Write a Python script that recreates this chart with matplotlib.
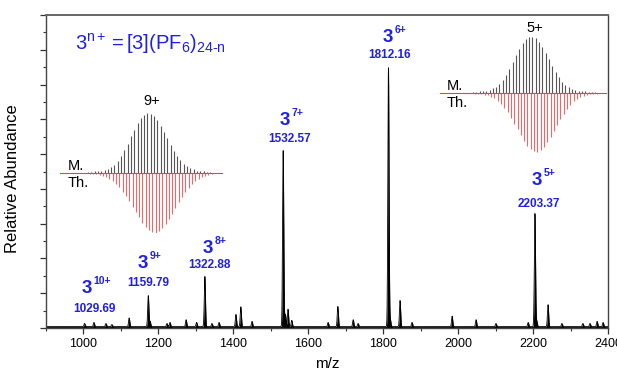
import numpy as np
import matplotlib
matplotlib.use("Agg")
import matplotlib.pyplot as plt
from matplotlib.ticker import MultipleLocator

plt.rcParams['font.family'] = ['Liberation Sans', 'DejaVu Sans']
plt.rcParams['mathtext.fontset'] = 'custom'
plt.rcParams['mathtext.rm'] = 'Liberation Sans'
plt.rcParams['mathtext.it'] = 'Liberation Sans:italic'
plt.rcParams['mathtext.bf'] = 'Liberation Sans:bold'

# main spectrum: peak centres (m/z) and heights (axis units)
peak_mz = [1003, 1028, 1060, 1076, 1122, 1173, 1178, 1223, 1231, 1274, 1302, 1324, 1343, 1362,
           1407, 1420, 1450, 1533, 1539, 1546, 1556, 1653, 1679, 1720, 1733, 1814, 1819, 1845,
           1877, 1984, 2048, 2101, 2187, 2205, 2210, 2240, 2277, 2333, 2352, 2371, 2387]
peak_h = [0.09, 0.12, 0.09, 0.06, 0.25, 0.89, 0.15, 0.09, 0.12, 0.20, 0.12, 1.44, 0.09, 0.12,
          0.35, 0.57, 0.15, 5.06, 0.35, 0.50, 0.18, 0.12, 0.58, 0.20, 0.09, 7.44, 0.20, 0.75,
          0.12, 0.30, 0.20, 0.09, 0.12, 3.25, 0.15, 0.63, 0.09, 0.09, 0.09, 0.15, 0.12]

# labelled species
lab_charge = ['10+', '9+', '8+', '7+', '6+', '5+']
lab_mz = ['1029.69', '1159.79', '1322.88', '1532.57', '1812.16', '2203.37']
lab_x = [1023, 1172, 1346, 1551, 1826, 2224]
lab_y = [1.00, 1.72, 2.16, 5.83, 8.22, 4.11]
num_x = [1028, 1172, 1335, 1549, 1818, 2216]
num_y = [0.46, 1.21, 1.72, 5.34, 7.76, 3.48]

# isotope patterns (measured / theoretical), relative intensity
iso9_meas = [0.02, 0.02, 0.03, 0.03, 0.04, 0.05, 0.07, 0.10, 0.14, 0.20, 0.28, 0.38, 0.49, 0.61,
             0.72, 0.83, 0.91, 0.97, 1.00, 0.99, 0.95, 0.88, 0.79, 0.69, 0.58, 0.47, 0.37, 0.28,
             0.21, 0.15, 0.11, 0.08, 0.06, 0.04, 0.03, 0.03, 0.02, 0.02]
iso9_theo = [0.01, 0.02, 0.02, 0.03, 0.05, 0.07, 0.10, 0.14, 0.18, 0.24, 0.31, 0.38, 0.47, 0.56,
             0.65, 0.74, 0.83, 0.90, 0.95, 0.99, 1.00, 0.97, 0.92, 0.85, 0.77, 0.68, 0.58, 0.49,
             0.40, 0.32, 0.25, 0.19, 0.14, 0.10, 0.07, 0.05, 0.03, 0.02]
iso5_meas = [0.02, 0.02, 0.03, 0.03, 0.04, 0.06, 0.08, 0.11, 0.16, 0.23, 0.32, 0.43, 0.55, 0.67,
             0.78, 0.88, 0.95, 0.99, 1.00, 0.97, 0.91, 0.82, 0.71, 0.60, 0.48, 0.37, 0.28, 0.20,
             0.14, 0.10, 0.07, 0.05, 0.04, 0.03, 0.03, 0.02, 0.02, 0.02]
iso5_theo = [0.01, 0.02, 0.02, 0.03, 0.04, 0.06, 0.09, 0.13, 0.18, 0.25, 0.33, 0.42, 0.52, 0.62,
             0.72, 0.82, 0.90, 0.96, 0.99, 1.00, 0.97, 0.91, 0.83, 0.74, 0.64, 0.54, 0.44, 0.35,
             0.27, 0.20, 0.14, 0.10, 0.07, 0.05, 0.03, 0.02, 0.02, 0.01]

BLUE = '#1f1fe6'
W, H = 617, 373


def px(x, y):
    return x / W, 1 - y / H


def spectrum(x):
    y = np.full_like(x, 0.04)
    for c, h in zip(peak_mz, peak_h):
        y += h * np.exp(-(x - c) ** 2 / (2 * 1.6 ** 2))
    return y


def iso_inset(fig, rect, meas, theo, first, top_scale, bot_scale):
    l, b = px(rect[0], rect[3])
    r, t = px(rect[2], rect[1])
    a = fig.add_axes([l, b, r - l, t - b])
    a.patch.set_alpha(0)
    a.axis('off')
    sp = 3.3
    a.set_xlim(-(first - rect[0]) / sp, (rect[2] - first) / sp)
    a.set_ylim(-1, 1)
    idx = np.arange(len(meas))
    a.vlines(idx + 0.5, 0, -np.array(theo) * bot_scale, color='#e86a6a', lw=0.8)
    a.vlines(idx, 0, np.array(meas) * top_scale, color='#555555', lw=0.8)
    a.axhline(0, color='#e04848', lw=0.8)
    return a


fig = plt.figure(figsize=(6.17, 3.73), dpi=100)
ax = fig.add_axes([46 / W, 45 / H, 562 / W, 313 / H])

x = np.arange(900, 2400, 0.2)
y = spectrum(x)
ax.fill_between(x, 0, y, color='black', lw=0)
ax.plot(x, y, color='black', lw=0.6)

ax.set_xlim(900, 2400)
ax.set_ylim(0, 9)
ax.xaxis.set_major_locator(MultipleLocator(200))
ax.xaxis.set_minor_locator(MultipleLocator(100))
ax.yaxis.set_major_locator(MultipleLocator(1))
ax.yaxis.set_minor_locator(MultipleLocator(0.5))
ax.set_yticklabels([])
ax.tick_params(which='major', length=4, width=0.9, color='#333333', labelsize=9, pad=3)
ax.tick_params(which='minor', length=2.5, width=0.8, color='#333333')
for s in ax.spines.values():
    s.set_color('#444444')
    s.set_linewidth(1.0)
ax.spines['top'].set_linewidth(1.4)
ax.spines['top'].set_color('#666666')

ax.set_xlabel('m/z', fontsize=11, labelpad=5)
ax.set_ylabel('Relative Abundance', fontsize=12)
ax.yaxis.set_label_coords(-0.046, 0.476)

for ch, num, lx, ly, nx, ny in zip(lab_charge, lab_mz, lab_x, lab_y, num_x, num_y):
    ax.text(lx, ly, '3', color=BLUE, fontsize=13.5, fontweight='bold',
            ha='right', va='baseline')
    ax.annotate(ch, xy=(lx, ly), xytext=(1, 6.5), textcoords='offset points',
                color=BLUE, fontsize=7.5, fontweight='bold', ha='left', va='baseline')
    ax.text(nx, ny, num, color=BLUE, fontsize=8.5, fontweight='bold',
            ha='center', va='baseline')

fig.text(*px(75, 50), r'$\mathregular{3^{n+} = [3](PF_6)_{24\text{-}n}}$',
         color=BLUE, fontsize=14.5, ha='left', va='baseline')

iso_inset(fig, (60, 113, 223, 233), iso9_meas, iso9_theo, 88, 1.0, 1.0)
iso_inset(fig, (440, 33, 607, 153), iso5_meas, iso5_theo, 473, 0.94, 0.98)

fig.text(*px(152, 105), '9+', fontsize=10.5, ha='center', va='baseline')
fig.text(*px(68, 170), 'M.', fontsize=10.5, ha='left', va='baseline')
fig.text(*px(68, 187), 'Th.', fontsize=10.5, ha='left', va='baseline')
fig.text(*px(535, 32), '5+', fontsize=10.5, ha='center', va='baseline')
fig.text(*px(447, 90), 'M.', fontsize=10.5, ha='left', va='baseline')
fig.text(*px(447, 107), 'Th.', fontsize=10.5, ha='left', va='baseline')

fig.savefig('out.png', dpi=100)
